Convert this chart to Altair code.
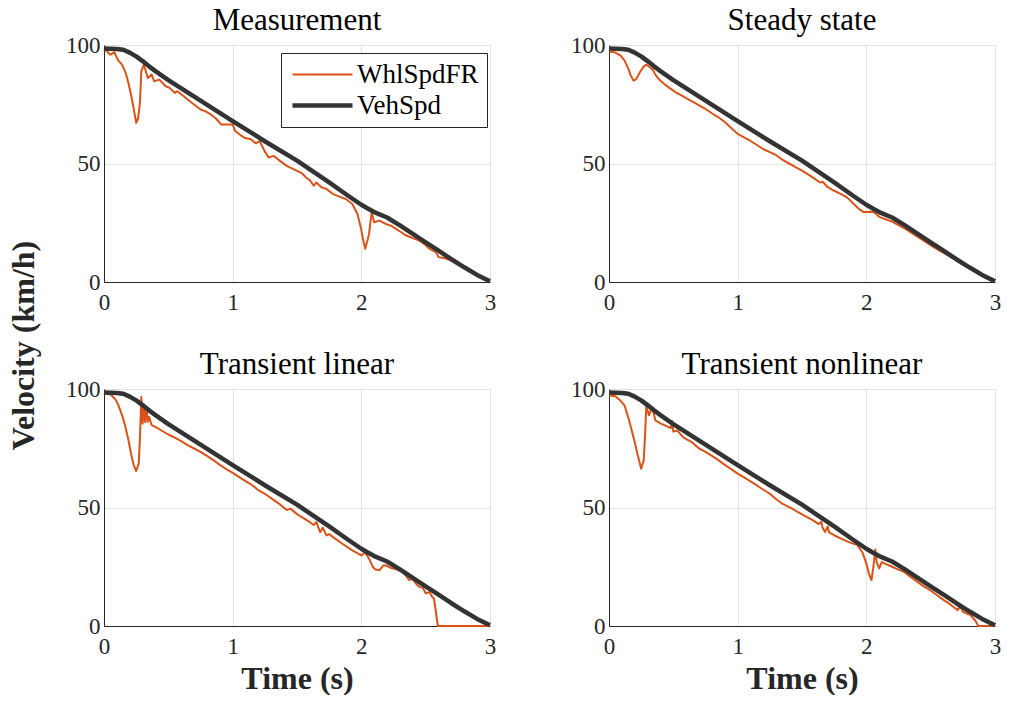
import altair as alt
import pandas as pd

FONT = "Liberation Serif"
ORANGE = "#D95319"
DARK = "#333333"
SERIES = ["WhlSpdFR", "VehSpd"]

PANEL_TITLES = ["Measurement", "Steady state", "Transient linear", "Transient nonlinear"]
X_TICKS = [0, 1, 2, 3]
Y_TICKS = [0, 50, 100]

# Vehicle speed (km/h) vs time (s) - same reference trace in every panel
VEH_T = [0, 0.05, 0.10, 0.15, 0.20, 0.25, 0.30, 0.35, 0.40, 0.50, 0.75, 1.00, 1.25, 1.50,
         1.75, 1.90, 2.00, 2.05, 2.10, 2.20, 2.30, 2.40, 2.50, 2.60, 2.70, 2.80, 2.90, 3.00]
VEH_V = [98.5, 98.4, 98.3, 98.0, 96.8, 95.2, 93.2, 91.0, 89.0, 85.2, 76.5, 67.9, 59.4, 51.2,
         42.0, 36.3, 32.6, 31.0, 29.5, 27.2, 23.9, 20.3, 16.7, 13.2, 9.6, 6.2, 3.0, 0.3]

# Front-right wheel speed, one (time, value) list per panel
WHL_MEASUREMENT = [
    (0, 98.0), (0.02, 97.5), (0.05, 95.9), (0.08, 97.0), (0.11, 93.5), (0.14, 91.7), (0.17, 88.0),
    (0.19, 84.0), (0.21, 79.0), (0.23, 73.5), (0.25, 67.2), (0.265, 69.0), (0.28, 76.0), (0.29, 88.9),
    (0.31, 91.7), (0.34, 86.1), (0.37, 87.5), (0.39, 84.7), (0.43, 85.4), (0.48, 82.6), (0.51, 81.9),
    (0.55, 79.8), (0.57, 80.5), (0.62, 78.4), (0.65, 77.0), (0.70, 74.9), (0.75, 72.8), (0.79, 72.0),
    (0.83, 70.7), (0.87, 69.0), (0.91, 66.5), (1.00, 66.5), (1.02, 63.7), (1.06, 62.0), (1.09, 60.9),
    (1.14, 60.2), (1.18, 58.5), (1.21, 59.5), (1.25, 55.0), (1.28, 52.5), (1.32, 53.2), (1.37, 51.0),
    (1.42, 49.0), (1.50, 46.9), (1.54, 45.8), (1.57, 44.1), (1.60, 43.0), (1.63, 40.6), (1.65, 42.0),
    (1.69, 40.0), (1.73, 39.2), (1.78, 37.1), (1.83, 36.0), (1.88, 35.0), (1.93, 32.9), (1.97, 28.7),
    (2.00, 22.0), (2.01, 18.9), (2.03, 14.0), (2.05, 18.0), (2.06, 20.3), (2.08, 29.4), (2.10, 25.2),
    (2.14, 25.9), (2.19, 24.5), (2.23, 23.8), (2.27, 22.4), (2.31, 21.0), (2.35, 19.6), (2.40, 18.5),
    (2.45, 17.5), (2.49, 16.0), (2.53, 14.0), (2.58, 12.6), (2.60, 10.5), (2.65, 10.0), (2.70, 9.1),
    (2.75, 7.5), (2.80, 6.0), (2.83, 4.9), (2.88, 3.2), (2.94, 1.4), (2.99, 0.4),
]
WHL_STEADY = [
    (0, 97.3), (0.05, 96.8), (0.09, 95.5), (0.12, 93.5), (0.15, 90.0), (0.17, 87.0), (0.19, 85.0),
    (0.21, 85.5), (0.24, 88.5), (0.27, 91.0), (0.29, 91.7), (0.32, 90.5), (0.34, 89.6), (0.36, 87.5),
    (0.39, 85.4), (0.43, 83.5), (0.47, 81.9), (0.52, 80.0), (0.57, 78.5), (0.62, 77.0), (0.66, 75.8),
    (0.70, 74.5), (0.75, 73.0), (0.80, 71.2), (0.85, 69.5), (0.90, 67.5), (0.95, 65.0), (1.00, 62.5),
    (1.05, 61.0), (1.10, 59.5), (1.15, 57.8), (1.20, 56.0), (1.25, 54.8), (1.30, 53.5), (1.35, 51.5),
    (1.40, 50.0), (1.45, 48.5), (1.50, 47.0), (1.55, 45.3), (1.60, 43.5), (1.64, 42.0), (1.66, 42.3),
    (1.70, 40.0), (1.75, 38.5), (1.80, 37.2), (1.85, 35.7), (1.90, 33.0), (1.95, 30.5), (1.98, 29.5),
    (2.03, 29.6), (2.06, 29.4), (2.10, 27.5), (2.15, 26.5), (2.20, 25.5), (2.30, 22.5), (2.40, 19.0),
    (2.50, 15.5), (2.60, 12.3), (2.70, 9.1), (2.80, 6.0), (2.90, 2.8), (2.97, 0.5),
]
WHL_LINEAR = [
    (0, 98.3), (0.05, 97.8), (0.09, 95.5), (0.11, 93.4), (0.14, 89.0), (0.16, 85.4), (0.19, 78.5),
    (0.21, 72.8), (0.23, 68.0), (0.25, 65.4), (0.27, 68.5), (0.28, 80.0), (0.29, 96.6), (0.30, 85.4),
    (0.31, 92.0), (0.32, 86.0), (0.33, 92.4), (0.34, 86.2), (0.35, 88.3), (0.37, 84.8), (0.40, 84.0),
    (0.44, 82.7), (0.50, 80.8), (0.55, 79.5), (0.60, 78.0), (0.65, 76.3), (0.70, 74.9), (0.75, 73.5),
    (0.80, 71.8), (0.85, 70.0), (0.90, 68.0), (0.95, 66.2), (1.01, 64.3), (1.06, 62.5), (1.11, 60.8),
    (1.15, 59.5), (1.20, 57.3), (1.25, 55.8), (1.32, 53.1), (1.37, 51.2), (1.42, 48.9), (1.45, 49.5),
    (1.50, 47.2), (1.55, 45.5), (1.60, 43.8), (1.63, 42.6), (1.65, 43.9), (1.67, 41.0), (1.68, 39.6),
    (1.70, 41.5), (1.73, 38.2), (1.75, 38.8), (1.78, 37.5), (1.85, 34.8), (1.93, 31.9), (2.00, 29.8),
    (2.03, 31.0), (2.06, 28.4), (2.09, 24.9), (2.11, 23.8), (2.14, 23.5), (2.17, 25.5), (2.19, 25.6),
    (2.23, 24.5), (2.28, 23.8), (2.32, 22.8), (2.35, 21.0), (2.37, 19.4), (2.40, 19.8), (2.43, 17.5),
    (2.45, 16.6), (2.48, 16.0), (2.50, 13.8), (2.53, 14.2), (2.55, 12.4), (2.565, 11.5), (2.595, 0.0),
    (3.0, 0.0),
]
WHL_NONLINEAR = [
    (0, 97.3), (0.05, 96.9), (0.09, 95.0), (0.12, 93.1), (0.15, 88.0), (0.17, 84.0), (0.20, 77.5),
    (0.22, 72.8), (0.25, 66.4), (0.27, 70.0), (0.28, 80.0), (0.29, 93.1), (0.31, 88.9), (0.33, 91.5),
    (0.34, 91.7), (0.36, 86.8), (0.40, 85.5), (0.46, 84.0), (0.48, 83.5), (0.49, 86.5), (0.50, 82.0),
    (0.53, 82.5), (0.58, 79.5), (0.64, 77.7), (0.70, 74.9), (0.75, 73.5), (0.80, 71.8), (0.85, 70.0),
    (0.90, 68.0), (0.95, 66.2), (1.00, 64.3), (1.05, 62.7), (1.10, 61.0), (1.15, 59.3), (1.20, 57.5),
    (1.25, 55.8), (1.30, 53.5), (1.35, 51.5), (1.42, 49.6), (1.47, 48.0), (1.52, 46.5), (1.58, 44.8),
    (1.63, 43.0), (1.65, 44.0), (1.66, 41.5), (1.68, 39.7), (1.70, 42.0), (1.71, 39.5), (1.75, 38.3),
    (1.80, 37.0), (1.86, 35.5), (1.93, 34.1), (1.97, 31.0), (2.00, 26.4), (2.02, 22.0), (2.04, 19.4),
    (2.055, 25.0), (2.07, 32.3), (2.08, 27.0), (2.10, 24.3), (2.12, 27.0), (2.14, 26.4), (2.20, 25.0),
    (2.25, 23.8), (2.29, 22.9), (2.35, 20.5), (2.40, 18.5), (2.45, 16.6), (2.50, 15.0), (2.55, 13.0),
    (2.60, 11.0), (2.65, 9.2), (2.71, 6.7), (2.73, 8.5), (2.75, 6.0), (2.81, 4.6), (2.85, 2.0),
    (2.87, 0.0), (3.0, 0.0),
]

W, H = 386, 237
AX = dict(labelFont=FONT, labelFontSize=23, labelColor="#262626", labelFlush=False, grid=True,
          ticks=False, domainColor="#262626", domainWidth=1, gridColor="#e3e3e3", gridWidth=1)


def panel(title, whl, xtitle, ytitle, legend):
    rows = [{"t": t, "v": v, "series": "WhlSpdFR"} for t, v in whl]
    rows += [{"t": t, "v": v, "series": "VehSpd"} for t, v in zip(VEH_T, VEH_V)]
    df = pd.DataFrame(rows)

    xaxis_kw = dict(values=X_TICKS, format="d", labelPadding=9, **AX)
    if xtitle:
        xaxis_kw.update(title="Time (s)", titleFont=FONT, titleFontSize=32, titleFontWeight="bold",
                        titleColor="#262626", titleBaseline="alphabetic", titleY=62)
    else:
        xaxis_kw.update(title=None)
    yaxis_kw = dict(values=Y_TICKS, format="d", labelPadding=4, **AX)
    if ytitle:
        yaxis_kw.update(title="Velocity (km/h)", titleFont=FONT, titleFontSize=32, titleFontWeight="bold",
                        titleColor="#262626", titleAngle=270, titleX=-71, titleY=300,
                        titleAlign="center", titleBaseline="alphabetic")
    else:
        yaxis_kw.update(title=None)

    if legend:
        leg = alt.Legend(orient="none", legendX=177, legendY=8, title=None, fillColor="white",
                         strokeColor="#262626", padding=8, symbolType="M-3,0H3", symbolSize=400,
                         symbolOffset=20, labelFont=FONT, labelFontSize=27, labelColor="black",
                         labelOffset=21, rowPadding=3, cornerRadius=0)
    else:
        leg = None

    enc = dict(
        x=alt.X("t:Q", scale=alt.Scale(domain=[0, 3], nice=False, zero=False), axis=alt.Axis(**xaxis_kw)),
        y=alt.Y("v:Q", scale=alt.Scale(domain=[0, 100], nice=False), axis=alt.Axis(**yaxis_kw)),
        color=alt.Color("series:N", scale=alt.Scale(domain=SERIES, range=[ORANGE, DARK]), legend=leg),
        strokeWidth=alt.StrokeWidth("series:N", scale=alt.Scale(domain=SERIES, range=[2, 4.5]), legend=leg),
    )
    base = alt.Chart(df)
    whl_line = base.transform_filter(alt.datum.series == "WhlSpdFR").mark_line(strokeJoin="round").encode(**enc)
    veh_line = base.transform_filter(alt.datum.series == "VehSpd").mark_line(strokeJoin="round").encode(**enc)
    return alt.layer(whl_line, veh_line).properties(
        width=W, height=H,
        title=alt.TitleParams(title, font=FONT, fontSize=31, fontWeight="normal", color="black", offset=-3),
    )


c1 = panel(PANEL_TITLES[0], WHL_MEASUREMENT, False, True, True)
c2 = panel(PANEL_TITLES[1], WHL_STEADY, False, False, False)
c3 = panel(PANEL_TITLES[2], WHL_LINEAR, True, False, False)
c4 = panel(PANEL_TITLES[3], WHL_NONLINEAR, True, False, False)

chart = alt.concat(
    c1, c2, c3, c4, columns=2, spacing={"row": 107, "column": 119}, bounds="flush"
).resolve_scale(
    color="independent", strokeWidth="independent"
).resolve_legend(
    color="independent", strokeWidth="independent"
).properties(
    padding={"left": -2, "top": -4, "right": 0, "bottom": 0}
).configure_view(stroke=None).configure(background="white")

chart.save("out.html", embed_options={"renderer": "svg", "actions": False})
